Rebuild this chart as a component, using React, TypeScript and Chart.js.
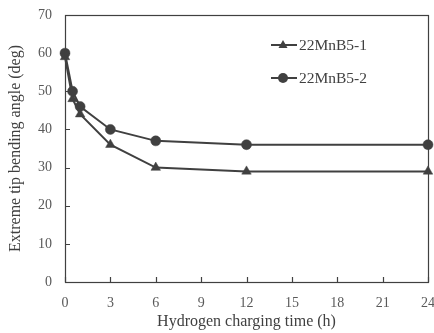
import React, { useEffect, useRef } from "react";
import { Chart, registerables } from "chart.js";

Chart.register(...registerables);

const timesH = [0, 0.5, 1, 3, 6, 12, 24];
const series1Name = "22MnB5-1";
const series1 = [59, 48, 44, 36, 30, 29, 29];
const series2Name = "22MnB5-2";
const series2 = [60, 50, 46, 40, 37, 36, 36];
const xTitle = "Hydrogen charging time (h)";
const yTitle = "Extreme tip bending angle (deg)";

const FONT = "'Liberation Serif', 'Times New Roman', serif";
const LINE = "#404040";

const framePlugin = {
  id: "frame",
  afterDraw(chart: any) {
    const { ctx, chartArea } = chart;
    const { left, right, top, bottom } = chartArea;
    ctx.save();
    ctx.strokeStyle = LINE;
    ctx.lineWidth = 1.2;
    ctx.strokeRect(Math.round(left) + 0.5, Math.round(top) + 0.5, Math.round(right - left), Math.round(bottom - top));
    const xs = chart.scales.x;
    const ys = chart.scales.y;
    ctx.beginPath();
    xs.ticks.forEach((t: any) => {
      const px = Math.round(xs.getPixelForValue(t.value)) + 0.5;
      ctx.moveTo(px, bottom);
      ctx.lineTo(px, bottom - 5);
    });
    ys.ticks.forEach((t: any) => {
      const py = Math.round(ys.getPixelForValue(t.value)) + 0.5;
      ctx.moveTo(left, py);
      ctx.lineTo(left + 5, py);
    });
    ctx.stroke();
    ctx.restore();
  },
  afterDatasetsDraw(chart: any) {
    const { ctx } = chart;
    const items = chart.data.datasets.map((d: any) => ({ label: d.label, style: d.pointStyle }));
    const x0 = 271, x1 = 297, mx = 283;
    const ys = [45, 78];
    ctx.save();
    items.forEach((it: any, i: number) => {
      const y = ys[i];
      ctx.strokeStyle = LINE;
      ctx.fillStyle = LINE;
      ctx.lineWidth = 2;
      ctx.beginPath();
      ctx.moveTo(x0, y);
      ctx.lineTo(x1, y);
      ctx.stroke();
      ctx.beginPath();
      if (it.style === "triangle") {
        const r = 5;
        ctx.moveTo(mx, y - r);
        ctx.lineTo(mx + r * 0.9, y + r * 0.6);
        ctx.lineTo(mx - r * 0.9, y + r * 0.6);
        ctx.closePath();
      } else {
        ctx.arc(mx, y, 5, 0, Math.PI * 2);
      }
      ctx.fill();
      ctx.font = `15.5px ${FONT}`;
      ctx.fillStyle = LINE;
      ctx.textBaseline = "middle";
      ctx.textAlign = "left";
      ctx.fillText(it.label, 299, y + 1);
    });
    ctx.restore();
  },
};

export default function App() {
  const ref = useRef<HTMLCanvasElement | null>(null);
  useEffect(() => {
    if (!ref.current) return;
    const chart = new Chart(ref.current, {
      type: "line",
      data: {
        datasets: [
          {
            label: series1Name,
            data: timesH.map((t, i) => ({ x: t, y: series1[i] })),
            borderColor: LINE,
            backgroundColor: LINE,
            borderWidth: 2,
            pointStyle: "triangle",
            pointRadius: 5.5,
            pointBorderWidth: 0.5,
            pointHoverRadius: 5.5,
            clip: false as any,
          },
          {
            label: series2Name,
            data: timesH.map((t, i) => ({ x: t, y: series2[i] })),
            borderColor: LINE,
            backgroundColor: LINE,
            borderWidth: 2,
            pointStyle: "circle",
            pointRadius: 5,
            pointBorderWidth: 0.5,
            pointHoverRadius: 5,
            clip: false as any,
          },
        ],
      },
      options: {
        animation: false,
        responsive: true,
        maintainAspectRatio: false,
        layout: { padding: { top: 15, right: 5, left: 0, bottom: 0 } },
        plugins: { legend: { display: false }, tooltip: { enabled: false } },
        scales: {
          x: {
            type: "linear",
            min: 0,
            max: 24,
            ticks: { stepSize: 3, font: { family: FONT, size: 14 }, color: "#595959", padding: 13 },
            grid: { display: false, drawTicks: false },
            border: { display: false },
            title: { display: true, text: xTitle, font: { family: FONT, size: 16 }, color: "#404040", padding: { top: 2, bottom: 2 } },
            afterFit: (s: any) => { s.height = 51; s.paddingLeft = 0; s.paddingRight = 0; },
          },
          y: {
            min: 0,
            max: 70,
            ticks: { stepSize: 10, font: { family: FONT, size: 14 }, color: "#595959", padding: 13 },
            grid: { display: false, drawTicks: false },
            border: { display: false },
            title: { display: true, text: yTitle, font: { family: FONT, size: 16 }, color: "#404040", padding: { top: 6, bottom: 2 } },
            afterFit: (s: any) => { s.width = 65; s.paddingTop = 0; s.paddingBottom = 0; },
          },
        },
      },
      plugins: [framePlugin],
    });
    return () => chart.destroy();
  }, []);
  return (
    <div style={{ position: "fixed", left: 0, top: 0, width: 434, height: 333, background: "#fff" }}>
      <canvas ref={ref} />
    </div>
  );
}
